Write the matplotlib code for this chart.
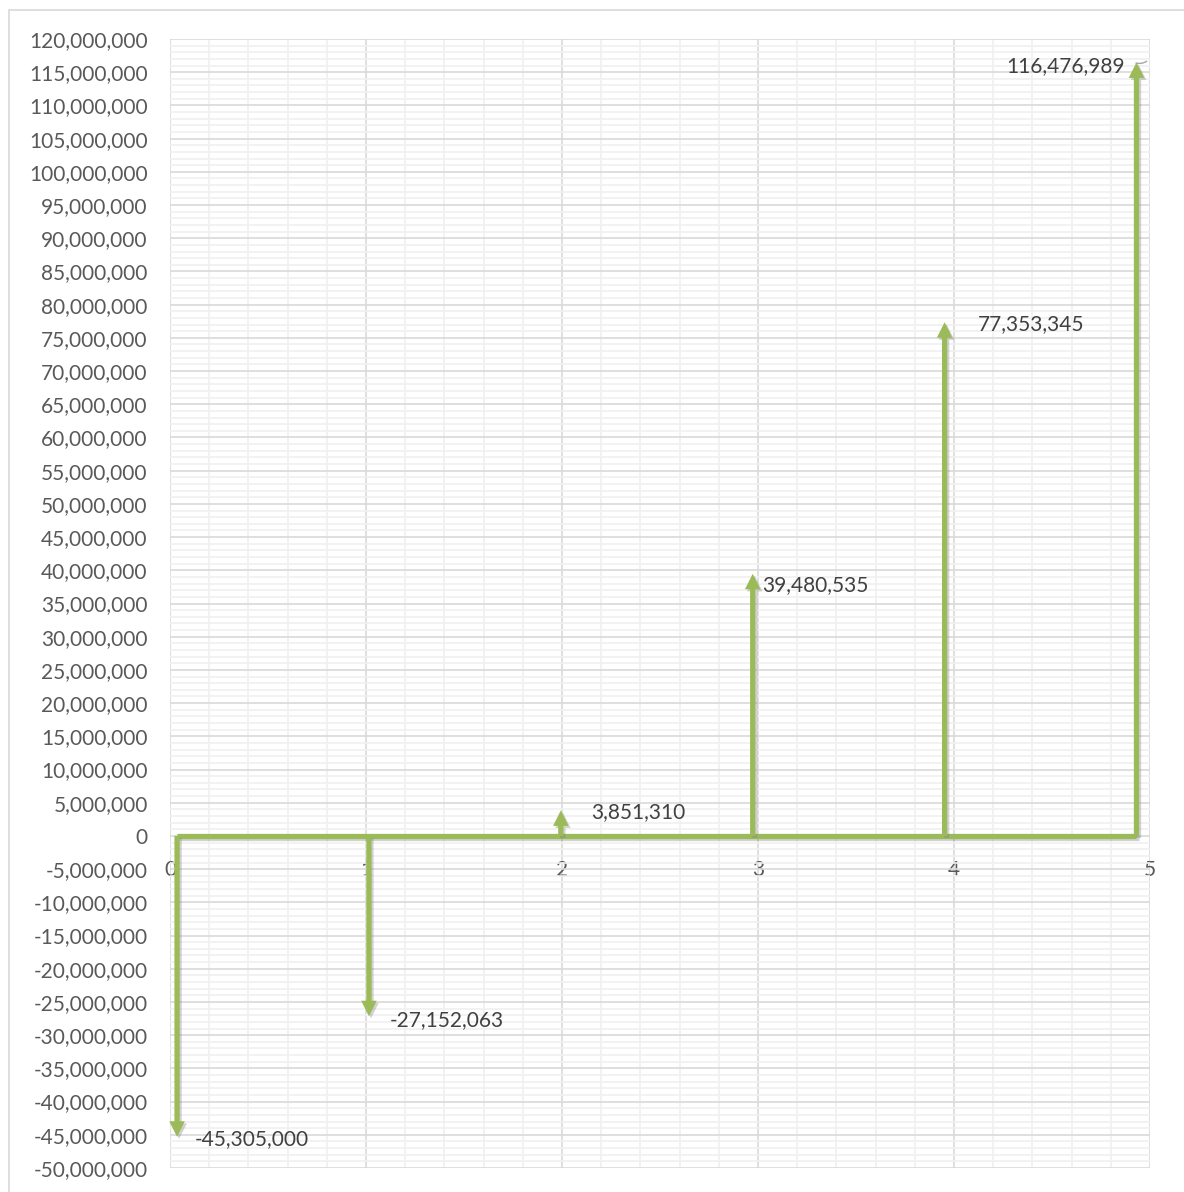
import matplotlib.pyplot as plt
import matplotlib.patheffects as pe
import numpy as np
from matplotlib.ticker import MultipleLocator, FuncFormatter

# cash flow per period
periods = [0, 1, 2, 3, 4, 5]
cash_flows = [-45305000, -27152063, 3851310, 39480535, 77353345, 116476989]
labels = ['-45,305,000', '-27,152,063', '3,851,310', '39,480,535', '77,353,345', '116,476,989']

green = '#9BBB59'
txt = '#595959'

plt.rcParams['font.family'] = ['Lato', 'DejaVu Sans']

fig = plt.figure(figsize=(11.84, 11.92), dpi=100)
ax = fig.add_axes([170 / 1184, 1 - 1168 / 1192, 980 / 1184, 1129 / 1192])

# outer chart border
fig.patches.append(plt.Rectangle((9 / 1184, -0.01), 1.0, 1 - 10 / 1192 + 0.01,
                                 transform=fig.transFigure, fill=False,
                                 edgecolor='#D9D9D9', lw=1.2))

ax.set_xlim(0, 5)
ax.set_ylim(-50e6, 120e6)
ax.yaxis.set_major_locator(MultipleLocator(5e6))
ax.yaxis.set_minor_locator(MultipleLocator(1e6))
ax.xaxis.set_major_locator(MultipleLocator(1))
ax.xaxis.set_minor_locator(MultipleLocator(0.2))
ax.yaxis.set_major_formatter(FuncFormatter(lambda v, p: f'{v:,.0f}'))
ax.grid(which='major', color='#D9D9D9', lw=1.2)
ax.grid(which='minor', color='#F0F0F0', lw=1.2)
ax.set_axisbelow(True)
for s in ax.spines.values():
    s.set_visible(False)
ax.spines['bottom'].set_position(('data', 0))
ax.tick_params(which='both', length=0, colors=txt, labelsize=15)
ax.tick_params(axis='y', pad=16)
ax.tick_params(axis='x', pad=17)

# arrows sit slightly off the integer grid, as in the source sheet
xs = np.array(periods) * 0.979 + 0.036
shadow = [pe.SimpleLineShadow(offset=(1.5, -1.5), shadow_color='gray', alpha=0.35), pe.Normal()]
pshadow = [pe.SimplePatchShadow(offset=(1.5, -1.5), shadow_rgbFace='gray', alpha=0.35), pe.Normal()]

ax.plot([xs[0], xs[-1]], [0, 0], color=green, lw=3.8, solid_capstyle='butt',
        path_effects=shadow, zorder=3)
for x, v in zip(xs, cash_flows):
    ax.annotate('', xy=(x, v), xytext=(x, 0),
                arrowprops=dict(arrowstyle='simple,head_length=0.8,head_width=0.8,tail_width=0.27',
                                fc=green, ec='none', mutation_scale=14,
                                shrinkA=0, shrinkB=0, path_effects=pshadow),
                zorder=4)

# data labels
pos = [(13, -1.5, 'left'), (15, -3, 'left'), (21.5, -1, 'left'),
       (6.5, -8.5, 'left'), (24, -1, 'left'), (-8.6, -2.5, 'right')]
for x, v, lab, (dx, dy, ha) in zip(xs, cash_flows, labels, pos):
    ax.annotate(lab, xy=(x, v), xytext=(dx, dy), textcoords='offset points',
                ha=ha, va='center', fontsize=15, color='#404040', zorder=5)

# small leader line for the last label
ax.annotate('', xy=(4.995, 116.9e6), xytext=(4.915, 116.5e6),
            arrowprops=dict(arrowstyle='-', color='#A6A6A6', lw=1,
                            connectionstyle='arc3,rad=0.3'))

plt.savefig('out.png', dpi=100)
